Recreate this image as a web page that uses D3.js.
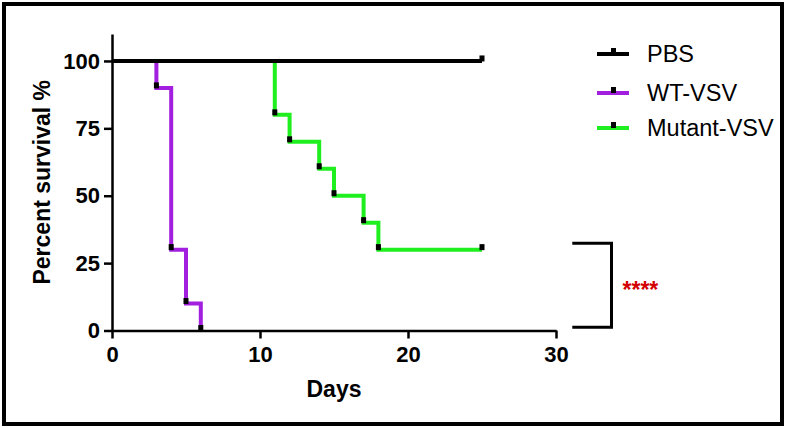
<!DOCTYPE html>
<html>
<head>
<meta charset="utf-8">
<script src="https://cdn.jsdelivr.net/npm/d3@7"></script>
<style>
  body { margin: 0; background: #fff; }
  svg { display: block; font-family: Arial, "Liberation Sans", sans-serif; }
</style>
</head>
<body>
<div id="chart"></div>
<script>
// Survival data (day, percent surviving)
var seriesNames = ["PBS", "WT-VSV", "Mutant-VSV"];
var pbsDays = [0, 25];
var pbsSurvival = [100, 100];
var wtDays = [0, 3, 4, 5, 6];
var wtSurvival = [100, 90, 30, 10, 0];
var mutantDays = [0, 11, 12, 14, 15, 17, 18, 25];
var mutantSurvival = [100, 80, 70, 60, 50, 40, 30, 30];
var xTicks = [0, 10, 20, 30];
var yTicks = [0, 25, 50, 75, 100];
var significance = "****";

var width = 787, height = 428;
var colors = { "PBS": "#000000", "WT-VSV": "#a31fe0", "Mutant-VSV": "#1fee1f" };

var svg = d3.select("#chart").append("svg")
  .attr("width", width)
  .attr("height", height);

// outer frame
svg.append("rect")
  .attr("x", 4).attr("y", 4)
  .attr("width", width - 9).attr("height", height - 8)
  .attr("fill", "none")
  .attr("stroke", "#000")
  .attr("stroke-width", 4);

var x = d3.scaleLinear().domain([0, 30]).range([112, 556]);
var y = d3.scaleLinear().domain([0, 110]).range([330.5, 34]);

// Axes
var xAxis = svg.append("g")
  .attr("transform", "translate(0," + y(0) + ")")
  .call(d3.axisBottom(x).tickValues(xTicks).tickSize(8).tickPadding(8).tickSizeOuter(0));

var yAxis = svg.append("g")
  .attr("transform", "translate(" + x(0) + ",0)")
  .call(d3.axisLeft(y).tickValues(yTicks).tickSize(8).tickPadding(4).tickSizeOuter(0));

[xAxis, yAxis].forEach(function(g) {
  g.select(".domain").attr("stroke", "#000").attr("stroke-width", 2.5);
  g.selectAll(".tick line").attr("stroke", "#000").attr("stroke-width", 2.5);
  g.selectAll(".tick text")
    .attr("fill", "#000")
    .style("font-size", "22px")
    .style("font-weight", "bold")
    .style("font-family", "Arial, 'Liberation Sans', sans-serif");
});

// Axis titles
svg.append("text")
  .attr("x", (x(0) + x(30)) / 2)
  .attr("y", 397)
  .attr("text-anchor", "middle")
  .style("font-size", "23px")
  .style("font-weight", "bold")
  .text("Days");

svg.append("text")
  .attr("transform", "translate(50," + (y(0) + y(110)) / 2 + ") rotate(-90)")
  .attr("text-anchor", "middle")
  .style("font-size", "23px")
  .style("font-weight", "bold")
  .text("Percent survival %");

// Curves (PBS drawn last so it sits on top, as in the figure)
var series = [
  { name: "WT-VSV", days: wtDays, values: wtSurvival },
  { name: "Mutant-VSV", days: mutantDays, values: mutantSurvival },
  { name: "PBS", days: pbsDays, values: pbsSurvival }
];

var line = d3.line()
  .x(function(d) { return x(d[0]); })
  .y(function(d) { return y(d[1]); })
  .curve(d3.curveStepAfter);

series.forEach(function(s) {
  var pts = s.days.map(function(d, i) { return [d, s.values[i]]; });

  svg.append("path")
    .datum(pts)
    .attr("fill", "none")
    .attr("stroke", colors[s.name])
    .attr("stroke-width", 4)
    .attr("d", line);

  // tick marks at each event
  svg.selectAll(null)
    .data(pts.slice(1))
    .enter().append("rect")
    .attr("x", function(d) { return x(d[0]) - 2.5; })
    .attr("y", function(d) { return y(d[1]) - 5.5; })
    .attr("width", 5)
    .attr("height", 6)
    .attr("fill", "#000");
});

// Legend
var legend = svg.append("g");
var legendY = [54, 93, 128];
seriesNames.forEach(function(name, i) {
  var g = legend.append("g").attr("transform", "translate(597," + legendY[i] + ")");
  g.append("line")
    .attr("x1", 0).attr("x2", 32)
    .attr("stroke", colors[name])
    .attr("stroke-width", 4);
  g.append("rect")
    .attr("x", 14).attr("y", -6)
    .attr("width", 5).attr("height", 6)
    .attr("fill", "#000");
  g.append("text")
    .attr("x", 50)
    .attr("dy", "0.36em")
    .style("font-size", "23.5px")
    .text(name);
});

// Significance bracket
var bx0 = x(31.1), bx1 = x(33.75);
var by0 = y(32.4), by1 = y(1.2);
svg.append("path")
  .attr("d", "M" + bx0 + "," + by0 + "H" + bx1 + "V" + by1 + "H" + bx0)
  .attr("fill", "none")
  .attr("stroke", "#000")
  .attr("stroke-width", 3);

svg.append("text")
  .attr("x", bx1 + 11)
  .attr("y", (by0 + by1) / 2 + 13)
  .attr("fill", "#d40000")
  .style("font-size", "23px")
  .style("font-weight", "bold")
  .text(significance);
</script>
</body>
</html>
